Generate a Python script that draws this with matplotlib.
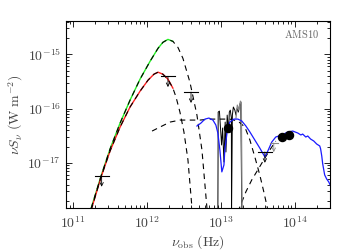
import numpy as np
import matplotlib
matplotlib.use('Agg')
import matplotlib.pyplot as plt

plt.rcParams['mathtext.fontset'] = 'cm'
plt.rcParams['font.family'] = ['DejaVu Serif']

# ---------------- data ----------------
# total cold-dust model (green) and second model (red)
green_nu = [1.60e11, 2.39e11, 3.16e11, 4.32e11, 5.89e11, 8.04e11, 1.10e12, 1.41e12,
            1.64e12, 1.92e12, 2.24e12, 2.62e12, 3.06e12, 3.81e12, 4.74e12, 5.54e12,
            6.47e12, 6.89e12]
green_S = [9.8e-19, 5.77e-18, 1.81e-17, 5.42e-17, 1.43e-16, 3.48e-16, 7.44e-16, 1.29e-15,
           1.66e-15, 1.88e-15, 1.73e-15, 1.34e-15, 8.45e-16, 3.06e-16, 7.60e-17, 1.73e-17,
           1.49e-18, 7.3e-19]
red_nu = [1.60e11, 2.39e11, 3.16e11, 4.32e11, 5.89e11, 8.04e11, 1.03e12, 1.24e12,
          1.41e12, 1.64e12, 1.92e12, 2.24e12, 2.47e12, 2.79e12, 3.16e12, 3.58e12,
          4.06e12, 4.19e12]
red_S = [9.0e-19, 5.53e-18, 1.66e-17, 4.58e-17, 1.07e-16, 2.09e-16, 3.33e-16, 4.30e-16,
         4.68e-16, 4.30e-16, 3.48e-16, 2.38e-16, 1.63e-16, 8.63e-17, 3.71e-17, 1.14e-17,
         1.49e-18, 8.3e-19]
colour_nu_max = 2.45e12   # coloured part of the far-IR models

# warm dust component (dashed)
warm_nu = [1.17e12, 1.50e12, 2.05e12, 2.79e12, 3.81e12, 5.20e12, 7.10e12, 9.69e12,
           1.32e13, 1.70e13, 2.11e13, 2.47e13, 2.88e13, 3.36e13, 3.81e13, 4.32e13, 4.46e13]
warm_S = [3.86e-17, 4.58e-17, 5.65e-17, 6.15e-17, 6.15e-17, 6.15e-17, 6.41e-17, 6.41e-17,
          6.41e-17, 5.90e-17, 4.58e-17, 2.64e-17, 1.29e-17, 6.02e-18, 2.94e-18, 1.37e-18, 9.0e-19]

# stellar component (dashed)
star_nu = [1.70e13, 2.18e13, 2.62e13, 3.16e13, 3.81e13, 4.59e13, 5.53e13]
star_S = [1.26e-18, 2.94e-18, 4.88e-18, 7.44e-18, 1.14e-17, 1.73e-17, 2.53e-17]

# mid/near-IR total model (blue)
blue_nu = [4.74e12, 5.37e12, 6.08e12, 6.89e12, 7.80e12, 8.55e12, 9.10e12, 9.69e12,
           1.03e13, 1.10e13, 1.13e13, 1.21e13, 1.32e13, 1.50e13, 1.70e13, 1.92e13,
           2.18e13, 2.47e13, 2.88e13, 3.36e13, 3.94e13, 4.32e13, 4.89e13, 5.53e13,
           6.67e13, 8.04e13, 9.40e13, 1.10e14, 1.21e14, 1.28e14, 1.41e14, 1.50e14,
           1.64e14, 1.81e14, 1.98e14, 2.18e14, 2.24e14, 2.32e14, 2.39e14, 2.54e14,
           2.70e14, 2.88e14, 3.06e14]
blue_S = [4.78e-17, 5.42e-17, 6.41e-17, 6.70e-17, 6.15e-17, 4.98e-17, 3.55e-17, 1.73e-17,
          6.84e-18, 9.18e-18, 1.73e-17, 3.55e-17, 5.65e-17, 6.41e-17, 6.41e-17, 5.90e-17,
          4.78e-17, 3.71e-17, 2.64e-17, 1.88e-17, 1.29e-17, 1.66e-17, 2.43e-17, 3.00e-17,
          3.27e-17, 3.71e-17, 3.86e-17, 3.55e-17, 3.27e-17, 3.40e-17, 3.00e-17, 3.13e-17,
          2.75e-17, 2.53e-17, 2.23e-17, 2.05e-17, 1.81e-17, 1.34e-17, 9.59e-18, 6.02e-18,
          5.08e-18, 4.48e-18, 3.78e-18]

# IRS spectrum (black) and second order (grey)
spec_nu = [9.10e12, 9.19e12, 9.55e12, 1.022e13, 1.055e13, 1.10e13, 1.143e13, 1.17e13,
           1.217e13, 1.27e13, 1.30e13, 1.34e13, 1.387e13, 1.393e13, 1.43e13, 1.475e13,
           1.545e13, 1.60e13, 1.66e13, 1.72e13, 1.81e13, 1.86e13, 1.92e13]
spec_S = [1.0e-18, 8.63e-17, 9.0e-17, 2.14e-17, 4.39e-17, 1.04e-17, 5.65e-17, 1.59e-17,
          7.60e-17, 3.71e-17, 8.63e-17, 9.38e-17, 6.70e-17, 1.0e-18, 7.60e-17, 1.07e-16,
          9.38e-17, 7.60e-17, 1.02e-16, 8.63e-17, 1.21e-16, 1.32e-16, 1.0e-18]
spec2_nu = [1.60e13, 1.67e13, 1.75e13, 1.84e13, 1.89e13, 1.94e13]
spec2_S = [6.7e-17, 1.16e-16, 9.38e-17, 1.37e-16, 1.26e-16, 1.0e-18]

# photometry
phot_nu = [1.245e13, 6.67e13, 8.3e13]
phot_S = [4.39e-17, 3.0e-17, 3.27e-17]

# upper limits
ul_nu = [2.43e11, 1.92e12, 3.94e12, 3.94e13]
ul_S = [5.77e-18, 3.94e-16, 2.01e-16, 1.59e-17]
ul_grey_nu = [5.2e13]
ul_grey_S = [2.33e-17]

xticks = [1e11, 1e12, 1e13, 1e14]
xtick_labels = [r'$10^{11}$', r'$10^{12}$', r'$10^{13}$', r'$10^{14}$']
yticks = [1e-17, 1e-16, 1e-15]
ytick_labels = [r'$10^{-17}$', r'$10^{-16}$', r'$10^{-15}$']
label_text = r'$\mathrm{AMS10}$'

# ---------------- plot ----------------
fig = plt.figure(figsize=(3.5, 2.5), dpi=100)
ax = fig.add_axes([66 / 350, 42 / 250, 264 / 350, 187 / 250])
ax.set_xscale('log')
ax.set_yscale('log')
ax.set_xlim(8e10, 3e14)
ax.set_ylim(1.48e-18, 4.1e-15)

dash = (5, 4)
gn, gs = np.array(green_nu), np.array(green_S)
rn, rs = np.array(red_nu), np.array(red_S)
mg = gn <= colour_nu_max
mr = rn <= colour_nu_max
ax.plot(gn[mg], gs[mg], color='#22ee22', lw=1.0, zorder=2)
ax.plot(rn[mr], rs[mr], color='#ff2020', lw=1.0, zorder=2)
ax.plot(gn, gs, color='k', lw=0.8, dashes=dash, zorder=3)
ax.plot(rn, rs, color='k', lw=0.8, dashes=dash, zorder=3)
ax.plot(warm_nu, warm_S, color='k', lw=0.8, dashes=dash, zorder=3)
ax.plot(star_nu, star_S, color='k', lw=0.8, dashes=dash, zorder=3)

ax.plot(spec_nu, spec_S, color='k', lw=0.7, zorder=4)
ax.plot(spec2_nu, spec2_S, color='#888888', lw=0.9, zorder=4)
ax.plot(blue_nu, blue_S, color='#1a1aff', lw=0.9, zorder=5)

ax.plot(phot_nu, phot_S, 'o', color='k', ms=5.8, zorder=6)

def upper(nu, S, color, half=0.095, length=0.2):
    ax.plot([nu * 10 ** -half, nu * 10 ** half], [S, S], color=color, lw=0.8, zorder=6)
    ax.annotate('', xy=(nu, S * 10 ** -length), xytext=(nu, S),
                arrowprops=dict(arrowstyle='->', lw=0.6, color=color,
                                shrinkA=0, shrinkB=0, mutation_scale=6), zorder=6)

for n, s in zip(ul_nu, ul_S):
    upper(n, s, 'k')
for n, s in zip(ul_grey_nu, ul_grey_S):
    upper(n, s, '#888888', half=0.055, length=0.17)

ax.set_xticks(xticks)
ax.set_xticklabels(xtick_labels)
ax.set_yticks(yticks)
ax.set_yticklabels(ytick_labels)
ax.yaxis.set_minor_formatter(matplotlib.ticker.NullFormatter())
ax.xaxis.set_minor_formatter(matplotlib.ticker.NullFormatter())
ax.tick_params(which='both', direction='in', top=True, right=True, width=0.6,
               labelsize=10, labelcolor='#444444')
ax.tick_params(which='major', length=4)
ax.tick_params(which='minor', length=2)
ax.tick_params(axis='x', pad=5)
for sp in ax.spines.values():
    sp.set_linewidth(0.8)

ax.set_xlabel(r'$\nu_{\rm obs}\ \mathrm{(Hz)}$', fontsize=10, color='#444444', labelpad=2)
ax.set_ylabel(r'$\nu S_\nu\ \mathrm{(W\ m^{-2})}$', fontsize=10, color='#444444', labelpad=2)
ax.text(0.96, 0.965, label_text, transform=ax.transAxes, ha='right', va='top',
        fontsize=7.5, color='#666666')

fig.savefig('out.png', dpi=100)
